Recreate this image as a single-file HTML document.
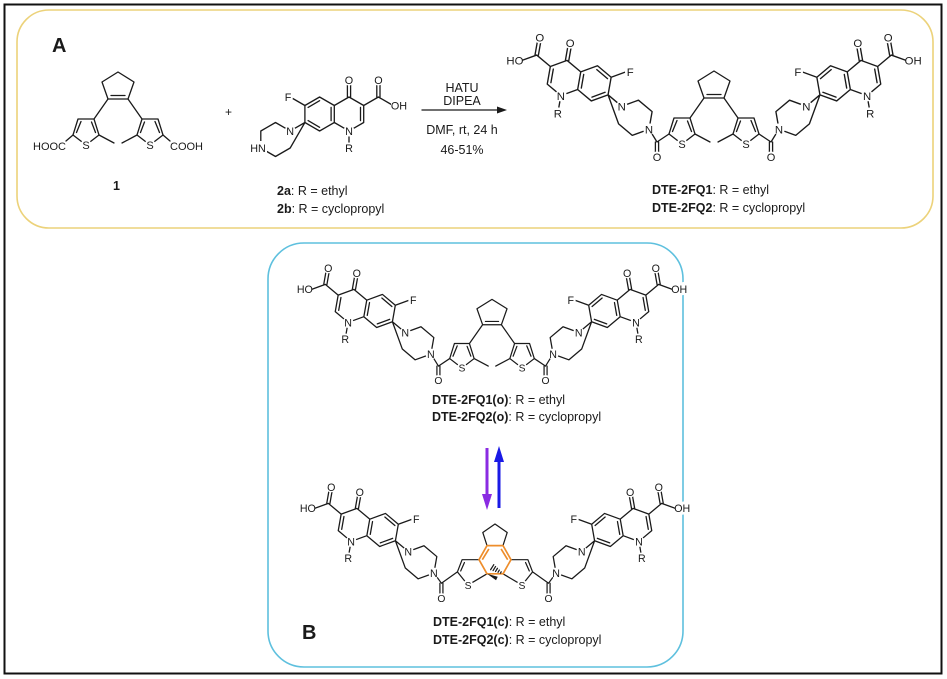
<!DOCTYPE html>
<html><head><meta charset="utf-8"><style>
html,body{margin:0;padding:0;background:#fff;}
svg{display:block;}
text{font-family:"Liberation Sans",Arial,sans-serif;fill:#1a1a1a;}
.l{fill:none;stroke:#1a1a1a;stroke-width:1.3;stroke-linejoin:round;stroke-linecap:round;}
.o{fill:none;stroke:#ee8d2b;stroke-width:1.8;stroke-linejoin:round;}
.a{font-size:10.8px;text-anchor:middle;}
.b{font-size:11px;text-anchor:middle;}
.c{font-size:12.5px;}
</style></head><body>
<svg width="947" height="679" viewBox="0 0 947 679" xmlns="http://www.w3.org/2000/svg">
<defs>
<g id="half">
 <path class="l" d="M0,-17 L14.7,-8.5 L14.7,8.5 L0,17 L-14.7,8.5 L-14.7,-8.5 Z M14.7,-8.5 L29.4,-17 L44.1,-8.5 L44.1,8.5 L29.4,17 L14.7,8.5 M-11.5,6.6 L-11.5,-6.6 M29.4,-13.3 L40.9,-6.6 M40.9,6.6 L29.4,13.3 M17.9,-6.6 L17.9,6.6 M-1.6,-17 L-1.6,-34 M1.6,-17 L1.6,-34 M-14.7,-8.5 L-29.4,-17 L-44.1,-8.5 M-31,-17 L-31,-34 M-27.8,-17 L-27.8,-34 M0,17 L0,34 M44.1,-8.5 L58.8,-17 M44.1,8.5 L58.8,17 L73.5,8.5 L88.2,17 L88.2,34 L73.5,42.5 L58.8,34 Z"/>
 <g fill="#fff">
  <circle cx="0" cy="-34" r="5.5"/><circle cx="-29.4" cy="-34" r="5.5"/><rect x="-56" y="-15" width="14" height="13"/>
  <circle cx="0" cy="17" r="5.5"/><circle cx="0" cy="34" r="5.5"/><circle cx="61" cy="-17" r="5"/>
  <circle cx="58.8" cy="17" r="5.5"/><circle cx="88.2" cy="34" r="5.5"/>
 </g>
</g>
<g id="thioL">
 <path class="l" d="M-45,134 L-40,118 L-24,118 L-19,134 L-32,144 Z M-41.5,131.5 L-37,120.5 M-26.5,121 L-22.5,131.5 M-19,134 L-4,142 M-24,118 L-10,98"/>
 <circle cx="-32" cy="144" r="5.5" fill="#fff"/>
</g>
<g id="cp"><path class="l" d="M-10,98 L10,98 L16,81 L0,71 L-16,81 Z M-7,94.5 L7,94.5"/></g>
<g id="amideL">
 <path class="l" d="M-65,129 L-57,142 L-45,134 M-58.6,142 L-58.6,157 M-55.4,142 L-55.4,157"/>
 <circle cx="-57" cy="157" r="5.5" fill="#fff"/>
</g>
<g id="closedL">
 <path class="l" d="M-65,129 L-57,140 L-40,128 M-58.6,140 L-58.6,156 M-55.4,140 L-55.4,156 M-40,128 L-35,115 L-17,115 M-8.5,130 L-28.7,142 L-40,128 M-36.5,127 L-32.5,118"/>
 <circle cx="-57" cy="156" r="5.5" fill="#fff"/>
 <circle cx="-28.7" cy="142" r="5.5" fill="#fff"/>
</g>
</defs>

<rect x="4.5" y="4.5" width="937" height="669" fill="none" stroke="#111" stroke-width="2"/>
<rect x="17" y="10" width="916" height="218" rx="32" fill="none" stroke="#ecd27a" stroke-width="1.6"/>
<rect x="268" y="243" width="415" height="424" rx="36" fill="none" stroke="#5ec0de" stroke-width="1.6"/>

<text x="52" y="52" style="font-size:20px;font-weight:bold;">A</text>
<text x="302" y="639" style="font-size:20px;font-weight:bold;">B</text>

<g transform="translate(118,1)">
 <use href="#thioL"/><use href="#thioL" transform="scale(-1,1)"/><use href="#cp"/>
 <path class="l" d="M-45,134 L-52,140 M45,134 L52,140"/>
 <text class="b" x="-32" y="148">S</text><text class="b" x="32" y="148">S</text>
 <text x="-52" y="149" style="font-size:11px;text-anchor:end;">HOOC</text>
 <text x="52" y="149" style="font-size:11px;">COOH</text>
</g>
<text x="113" y="190" style="font-size:12.5px;font-weight:bold;">1</text>
<text x="225" y="116" style="font-size:12px;">+</text>

<g transform="translate(349,114) scale(-1,1)">
 <use href="#half"/>
 <rect x="82" y="27" width="16" height="14" fill="#fff"/>
 <g class="a">
 <text x="0" y="-30" transform="translate(0 -34) scale(-1 1) translate(0 34)">O</text>
 <text x="-29.4" y="-30" transform="translate(-29.4 -34) scale(-1 1) translate(29.4 34)">O</text>
 <text x="-50" y="-4.5" transform="translate(-50 -8.5) scale(-1 1) translate(50 8.5)">OH</text>
 <text x="0" y="21" transform="translate(0 17) scale(-1 1) translate(0 -17)">N</text>
 <text x="0" y="38" transform="translate(0 34) scale(-1 1) translate(0 -34)">R</text>
 <text x="61" y="-13" transform="translate(61 -17) scale(-1 1) translate(-61 17)">F</text>
 <text x="58.8" y="21" transform="translate(58.8 17) scale(-1 1) translate(-58.8 -17)">N</text>
 <text x="91" y="38" transform="translate(91 34) scale(-1 1) translate(-91 -34)">HN</text>
 </g>
</g>
<text x="277" y="195" class="c"><tspan font-weight="bold">2a</tspan>: R = ethyl</text>
<text x="277" y="213" class="c"><tspan font-weight="bold">2b</tspan>: R = cyclopropyl</text>

<path class="l" d="M422,110 L499,110"/>
<polygon points="507,110 497,106.5 497,113.5" fill="#1a1a1a"/>
<g style="font-size:12.5px;text-anchor:middle;">
<text x="462" y="92">HATU</text>
<text x="462" y="105">DIPEA</text>
<text x="462" y="134">DMF, rt, 24 h</text>
<text x="462" y="154">46-51%</text>
</g>

<g transform="translate(714,0)">
 <use href="#thioL"/><use href="#thioL" transform="scale(-1,1)"/><use href="#cp"/>
 <use href="#amideL"/><use href="#amideL" transform="scale(-1,1)"/>
 <g class="b"><text x="-32" y="148">S</text><text x="32" y="148">S</text><text x="-57" y="161">O</text><text x="57" y="161">O</text></g>
 <g transform="translate(-150,78) rotate(10) scale(1.05)">
  <use href="#half"/>
  <g class="a">
  <text x="0" y="-30" transform="rotate(-10 0 -34)">O</text>
  <text x="-29.4" y="-30" transform="rotate(-10 -29.4 -34)">O</text>
  <text x="-49" y="-4.5" transform="rotate(-10 -49 -8.5)">HO</text>
  <text x="0" y="21" transform="rotate(-10 0 17)">N</text>
  <text x="0" y="38" transform="rotate(-10 0 34)">R</text>
  <text x="61" y="-13" transform="rotate(-10 61 -17)">F</text>
  <text x="58.8" y="21" transform="rotate(-10 58.8 17)">N</text>
  <text x="88.2" y="38" transform="rotate(-10 88.2 34)">N</text>
  </g>
 </g>
 <g transform="translate(150,78) scale(-1,1) rotate(10) scale(1.05)">
  <use href="#half"/>
  <g class="a">
  <text x="0" y="-30" transform="translate(0 -34) rotate(-10) scale(-1 1) translate(0 34)">O</text>
  <text x="-29.4" y="-30" transform="translate(-29.4 -34) rotate(-10) scale(-1 1) translate(29.4 34)">O</text>
  <text x="-49" y="-4.5" transform="translate(-49 -8.5) rotate(-10) scale(-1 1) translate(49 8.5)">OH</text>
  <text x="0" y="21" transform="translate(0 17) rotate(-10) scale(-1 1) translate(0 -17)">N</text>
  <text x="0" y="38" transform="translate(0 34) rotate(-10) scale(-1 1) translate(0 -34)">R</text>
  <text x="61" y="-13" transform="translate(61 -17) rotate(-10) scale(-1 1) translate(-61 17)">F</text>
  <text x="58.8" y="21" transform="translate(58.8 17) rotate(-10) scale(-1 1) translate(-58.8 -17)">N</text>
  <text x="88.2" y="38" transform="translate(88.2 34) rotate(-10) scale(-1 1) translate(-88.2 -34)">N</text>
  </g>
 </g>
</g>
<text x="652" y="194" class="c"><tspan font-weight="bold">DTE-2FQ1</tspan>: R = ethyl</text>
<text x="652" y="212" class="c"><tspan font-weight="bold">DTE-2FQ2</tspan>: R = cyclopropyl</text>

<g transform="translate(492,232.6) scale(0.94)">
 <use href="#thioL"/><use href="#thioL" transform="scale(-1,1)"/><use href="#cp"/>
 <use href="#amideL"/><use href="#amideL" transform="scale(-1,1)"/>
 <g class="b"><text x="-32" y="148">S</text><text x="32" y="148">S</text><text x="-57" y="161">O</text><text x="57" y="161">O</text></g>
 <g transform="translate(-150,78) rotate(10) scale(1.05)">
  <use href="#half"/>
  <g class="a">
  <text x="0" y="-30" transform="rotate(-10 0 -34)">O</text>
  <text x="-29.4" y="-30" transform="rotate(-10 -29.4 -34)">O</text>
  <text x="-49" y="-4.5" transform="rotate(-10 -49 -8.5)">HO</text>
  <text x="0" y="21" transform="rotate(-10 0 17)">N</text>
  <text x="0" y="38" transform="rotate(-10 0 34)">R</text>
  <text x="61" y="-13" transform="rotate(-10 61 -17)">F</text>
  <text x="58.8" y="21" transform="rotate(-10 58.8 17)">N</text>
  <text x="88.2" y="38" transform="rotate(-10 88.2 34)">N</text>
  </g>
 </g>
 <g transform="translate(150,78) scale(-1,1) rotate(10) scale(1.05)">
  <use href="#half"/>
  <g class="a">
  <text x="0" y="-30" transform="translate(0 -34) rotate(-10) scale(-1 1) translate(0 34)">O</text>
  <text x="-29.4" y="-30" transform="translate(-29.4 -34) rotate(-10) scale(-1 1) translate(29.4 34)">O</text>
  <text x="-49" y="-4.5" transform="translate(-49 -8.5) rotate(-10) scale(-1 1) translate(49 8.5)">OH</text>
  <text x="0" y="21" transform="translate(0 17) rotate(-10) scale(-1 1) translate(0 -17)">N</text>
  <text x="0" y="38" transform="translate(0 34) rotate(-10) scale(-1 1) translate(0 -34)">R</text>
  <text x="61" y="-13" transform="translate(61 -17) rotate(-10) scale(-1 1) translate(-61 17)">F</text>
  <text x="58.8" y="21" transform="translate(58.8 17) rotate(-10) scale(-1 1) translate(-58.8 -17)">N</text>
  <text x="88.2" y="38" transform="translate(88.2 34) rotate(-10) scale(-1 1) translate(-88.2 -34)">N</text>
  </g>
 </g>
</g>
<text x="432" y="404" class="c"><tspan font-weight="bold">DTE-2FQ1(o)</tspan>: R = ethyl</text>
<text x="432" y="421" class="c"><tspan font-weight="bold">DTE-2FQ2(o)</tspan>: R = cyclopropyl</text>

<line x1="487" y1="448" x2="487" y2="496" stroke="#8a2be2" stroke-width="3"/>
<polygon points="487,510 482,494 492,494" fill="#8a2be2"/>
<line x1="499" y1="508" x2="499" y2="460" stroke="#1a1ae6" stroke-width="3"/>
<polygon points="499,446 494,462 504,462" fill="#1a1ae6"/>

<g transform="translate(495,451.6) scale(0.94)">
 <use href="#closedL"/><use href="#closedL" transform="scale(-1,1)"/>
 <path class="l" d="M-8.5,100 L-13,86 L0,77 L13,86 L8.5,100"/>
 <path class="o" d="M-8.5,100 L8.5,100 L17,115 L8.5,130 L-8.5,130 L-17,115 Z M-13.5,115 L-6.5,103.5 M6.5,103.5 L13.5,115"/>
 <polygon points="-8.5,130 2.9,133.2 1.1,136.8" fill="#1a1a1a"/>
 <path class="l" d="M5.8,129.3 L6.6,127.9 M3.2,128.4 L4.6,126 M0.56,127.5 L2.64,124.1 M-2.05,126.6 L0.65,122.2 M-4.7,125.7 L-1.3,120.3"/>
 <g class="b"><text x="-28.7" y="146">S</text><text x="28.7" y="146">S</text><text x="-57" y="160">O</text><text x="57" y="160">O</text></g>
 <g transform="translate(-150,78) rotate(10) scale(1.05)">
  <use href="#half"/>
  <g class="a">
  <text x="0" y="-30" transform="rotate(-10 0 -34)">O</text>
  <text x="-29.4" y="-30" transform="rotate(-10 -29.4 -34)">O</text>
  <text x="-49" y="-4.5" transform="rotate(-10 -49 -8.5)">HO</text>
  <text x="0" y="21" transform="rotate(-10 0 17)">N</text>
  <text x="0" y="38" transform="rotate(-10 0 34)">R</text>
  <text x="61" y="-13" transform="rotate(-10 61 -17)">F</text>
  <text x="58.8" y="21" transform="rotate(-10 58.8 17)">N</text>
  <text x="88.2" y="38" transform="rotate(-10 88.2 34)">N</text>
  </g>
 </g>
 <g transform="translate(150,78) scale(-1,1) rotate(10) scale(1.05)">
  <use href="#half"/>
  <g class="a">
  <text x="0" y="-30" transform="translate(0 -34) rotate(-10) scale(-1 1) translate(0 34)">O</text>
  <text x="-29.4" y="-30" transform="translate(-29.4 -34) rotate(-10) scale(-1 1) translate(29.4 34)">O</text>
  <text x="-49" y="-4.5" transform="translate(-49 -8.5) rotate(-10) scale(-1 1) translate(49 8.5)">OH</text>
  <text x="0" y="21" transform="translate(0 17) rotate(-10) scale(-1 1) translate(0 -17)">N</text>
  <text x="0" y="38" transform="translate(0 34) rotate(-10) scale(-1 1) translate(0 -34)">R</text>
  <text x="61" y="-13" transform="translate(61 -17) rotate(-10) scale(-1 1) translate(-61 17)">F</text>
  <text x="58.8" y="21" transform="translate(58.8 17) rotate(-10) scale(-1 1) translate(-58.8 -17)">N</text>
  <text x="88.2" y="38" transform="translate(88.2 34) rotate(-10) scale(-1 1) translate(-88.2 -34)">N</text>
  </g>
 </g>
</g>
<text x="433" y="626" class="c"><tspan font-weight="bold">DTE-2FQ1(c)</tspan>: R = ethyl</text>
<text x="433" y="644" class="c"><tspan font-weight="bold">DTE-2FQ2(c)</tspan>: R = cyclopropyl</text>
</svg>
</body></html>
